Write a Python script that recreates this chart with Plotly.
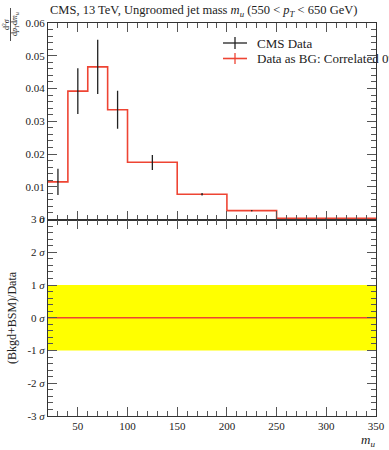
import plotly.graph_objects as go

# ---- data ----
bin_edges = [20, 40, 60, 80, 100, 150, 200, 250, 350]
bin_centers = [30, 50, 70, 90, 125, 175, 225, 300]
cms_values = [0.0115, 0.0392, 0.0466, 0.0335, 0.0175, 0.0077, 0.0027, 0.0004]
cms_err_up = [0.0040, 0.0070, 0.0083, 0.0058, 0.0022, 0.0004, 0.0002, 0.0001]
cms_err_down = [0.0040, 0.0070, 0.0083, 0.0058, 0.0024, 0.0004, 0.0002, 0.0001]
bg_values = [0.0115, 0.0392, 0.0466, 0.0335, 0.0175, 0.0077, 0.0027, 0.0004]
ratio_sigma = [0, 0, 0, 0, 0, 0, 0, 0]
band_upper = 1
band_lower = -1

top_tickvals = [0, 0.01, 0.02, 0.03, 0.04, 0.05, 0.06]
top_ticktext = ["0", "0.01", "0.02", "0.03", "0.04", "0.05", "0.06"]
bot_tickvals = [-3, -2, -1, 0, 1, 2, 3]
bot_ticktext = ["-3 <i>σ</i>", "-2 <i>σ</i>", "-1 <i>σ</i>", "0 <i>σ</i>",
                "1 <i>σ</i>", "2 <i>σ</i>", "3 <i>σ</i>"]
x_tickvals = [50, 100, 150, 200, 250, 300, 350]

RED = "#ee4433"
FONT = "Liberation Serif"
W, H = 389, 450
# plot frame in page pixels: x 48..376, y 23..416
L, R, T, B = 48, 13, 23, 34

fig = go.Figure()

# top panel: step line
fig.add_trace(go.Scatter(
    x=bin_edges, y=bg_values + [bg_values[-1]], mode="lines",
    line=dict(color=RED, width=1.6, shape="hv"),
    xaxis="x", yaxis="y", showlegend=False, hoverinfo="skip"))

# data error bars
fig.add_trace(go.Scatter(
    x=bin_centers, y=cms_values, mode="markers",
    marker=dict(size=1, color="#222222"),
    error_y=dict(type="data", array=cms_err_up, arrayminus=cms_err_down,
                 color="#222222", thickness=1.3, width=0),
    xaxis="x", yaxis="y", showlegend=False))

# bottom panel: band and ratio
fig.add_trace(go.Scatter(
    x=[bin_edges[0], bin_edges[-1]], y=[band_upper, band_upper], mode="lines",
    line=dict(width=0, color="#ffff00"), xaxis="x2", yaxis="y2",
    showlegend=False, hoverinfo="skip"))
fig.add_trace(go.Scatter(
    x=[bin_edges[0], bin_edges[-1]], y=[band_lower, band_lower], mode="lines",
    line=dict(width=0, color="#ffff00"), fill="tonexty", fillcolor="#ffff00",
    xaxis="x2", yaxis="y2", showlegend=False, hoverinfo="skip"))
fig.add_trace(go.Scatter(
    x=bin_edges, y=ratio_sigma + [ratio_sigma[-1]], mode="lines",
    line=dict(color=RED, width=1.4, shape="hv"),
    xaxis="x2", yaxis="y2", showlegend=False, hoverinfo="skip"))

axis_common = dict(
    showline=True, linecolor="#333333", linewidth=1, mirror="allticks",
    ticks="inside", ticklen=9, tickcolor="#555555", tickwidth=1,
    showgrid=False, zeroline=False, automargin=False,
    tickfont=dict(family=FONT, size=11, color="#222222"),
)

fig.update_layout(
    width=W, height=H, autosize=False,
    margin=dict(l=L, r=R, t=T, b=B, pad=0, autoexpand=False),
    paper_bgcolor="white", plot_bgcolor="white",
    font=dict(family=FONT, size=11, color="#222222"),
    xaxis=dict(range=[20, 350], domain=[0, 1], anchor="y",
               tickvals=x_tickvals, showticklabels=False,
               minor=dict(dtick=10, tick0=0, ticklen=5, ticks="inside",
                          tickcolor="#555555", showgrid=False),
               **axis_common),
    yaxis=dict(range=[0, 0.06], domain=[0.5, 1], anchor="x",
               tickvals=top_tickvals, ticktext=top_ticktext,
               minor=dict(dtick=0.002, tick0=0, ticklen=5, ticks="inside",
                          tickcolor="#555555", showgrid=False),
               **axis_common),
    xaxis2=dict(range=[20, 350], domain=[0, 1], anchor="y2",
                tickvals=x_tickvals,
                minor=dict(dtick=10, tick0=0, ticklen=5, ticks="inside",
                           tickcolor="#555555", showgrid=False),
                **axis_common),
    yaxis2=dict(range=[-3, 3], domain=[0, 0.5], anchor="x2",
                tickvals=bot_tickvals, ticktext=bot_ticktext,
                minor=dict(dtick=0.2, tick0=0, ticklen=5, ticks="inside",
                           tickcolor="#555555", showgrid=False),
                **axis_common),
)

def px_x(px):
    return (px - L) / (W - L - R)

def px_y(py):
    return 1 - (py - T) / (H - T - B)

annotations = [
    dict(text="CMS, 13 TeV, Ungroomed jet mass <i>m<sub>u</sub></i> (550 &lt; <i>p<sub>T</sub></i> &lt; 650 GeV)",
         x=px_x(203), y=px_y(11), xref="paper", yref="paper", showarrow=False,
         font=dict(size=12.5, family=FONT), xanchor="center", yanchor="middle"),
    dict(text="CMS Data", x=px_x(255), y=px_y(43), xref="paper", yref="paper",
         showarrow=False, xanchor="left", yanchor="middle",
         font=dict(size=13, family=FONT)),
    dict(text="Data as BG: Correlated 0%", x=px_x(255), y=px_y(58.5), xref="paper",
         yref="paper", showarrow=False, xanchor="left", yanchor="middle",
         font=dict(size=13, family=FONT)),
    dict(text="(Bkgd+BSM)/Data", x=px_x(12), y=px_y(318), xref="paper", yref="paper",
         showarrow=False, textangle=-90, xanchor="center", yanchor="middle",
         font=dict(size=12, family=FONT)),
    dict(text="<i>m<sub>u</sub></i>", x=px_x(368), y=px_y(440), xref="paper",
         yref="paper", showarrow=False, xanchor="center", yanchor="middle",
         font=dict(size=13, family=FONT)),
    dict(text="d<sup>2</sup><i>σ</i>", x=px_x(6), y=px_y(24), xref="paper",
         yref="paper", showarrow=False, textangle=-90, xanchor="center",
         yanchor="middle", font=dict(size=8, family=FONT)),
    dict(text="d<i>p<sub>T</sub></i>d<i>m<sub>u</sub></i>", x=px_x(15), y=px_y(24),
         xref="paper", yref="paper", showarrow=False, textangle=-90,
         xanchor="center", yanchor="middle", font=dict(size=8, family=FONT)),
]
fig.update_layout(annotations=annotations)

shapes = [
    # fraction bar of y label
    dict(type="line", xref="paper", yref="paper", x0=px_x(10.5), x1=px_x(10.5),
         y0=px_y(8), y1=px_y(41), line=dict(color="#222222", width=0.8)),
    # legend glyphs
    dict(type="line", xref="paper", yref="paper", x0=px_x(223), x1=px_x(247),
         y0=px_y(43), y1=px_y(43), line=dict(color="#222222", width=1.3)),
    dict(type="line", xref="paper", yref="paper", x0=px_x(235), x1=px_x(235),
         y0=px_y(37), y1=px_y(49), line=dict(color="#222222", width=1.3)),
    dict(type="line", xref="paper", yref="paper", x0=px_x(223), x1=px_x(247),
         y0=px_y(58.5), y1=px_y(58.5), line=dict(color=RED, width=1.6)),
    dict(type="line", xref="paper", yref="paper", x0=px_x(235), x1=px_x(235),
         y0=px_y(53), y1=px_y(64), line=dict(color=RED, width=1.3)),
]
fig.update_layout(shapes=shapes)

fig.write_html(
    "out.html",
    config={"displayModeBar": False, "staticPlot": True},
    post_script="document.body.style.margin='0px';document.body.style.overflow='hidden';",
)
